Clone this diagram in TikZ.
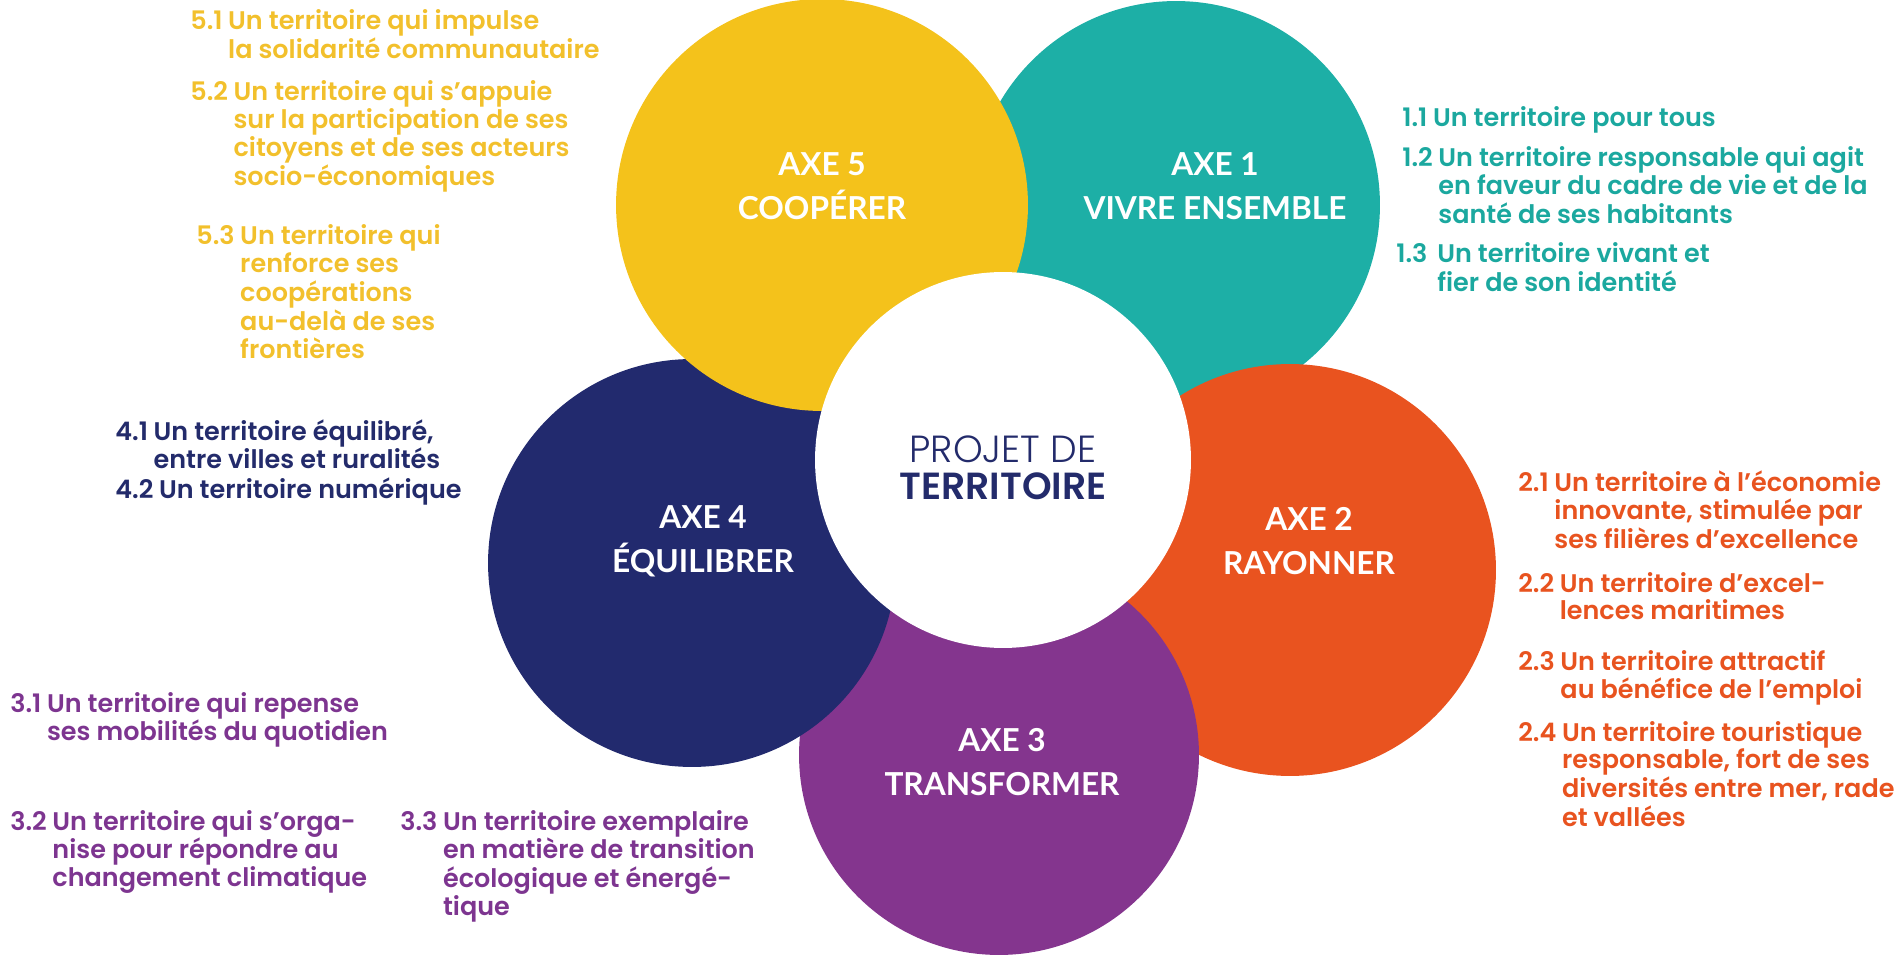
\documentclass[tikz,border=0pt]{standalone}
\usepackage{fontspec}
\setmainfont{Poppins}[BoldFont={Poppins SemiBold}]
\newfontfamily\labelfont{Lato}
\newfontfamily\lightfont{Poppins Light}
\usetikzlibrary{positioning}

\definecolor{axeteal}{HTML}{1DAFA6}
\definecolor{axeorange}{HTML}{E9531F}
\definecolor{axepurple}{HTML}{84358E}
\definecolor{axenavy}{HTML}{222A6E}
\definecolor{axeyellow}{HTML}{F4C21B}
\definecolor{txtyellow}{HTML}{F2C02C}
\definecolor{txtteal}{HTML}{1BA89F}
\definecolor{txtorange}{HTML}{E8531F}
\definecolor{txtpurple}{HTML}{7D3590}
\definecolor{txtnavy}{HTML}{232B6B}

\tikzset{
  axe/.style={circle, minimum size=#1, inner sep=0pt, outer sep=0pt},
  axelabel/.style={text=white, align=center, font=\labelfont\fontsize{18}{25}\selectfont\bfseries},
  obj/.style={anchor=base west, inner sep=0pt, font=\fontsize{14.5}{15}\selectfont\bfseries},
}
\newcommand{\obj}[2]{\begin{tabular}[t]{@{}l@{\hspace{0.22em}}l@{}}#1 & #2\end{tabular}}

\begin{document}
\begin{tikzpicture}[x=0.02cm, y=-0.02cm]
  \useasboundingbox (0,0) rectangle (1900,959);

  % Axes, back to front
  \node[axe=8.16cm, fill=axeteal] (Axe1) at (1176,205) {};
  \node[axe=8.24cm, fill=axeorange] (Axe2) at (1290,570) {};
  \node[axe=8cm, fill=axepurple] (Axe3) at (999,755) {};
  \node[axe=8.16cm, fill=axenavy] (Axe4) at (692,563) {};
  \node[axe=8.24cm, fill=axeyellow] (Axe5) at (822,205) {};

  % Centre
  \node[axe=7.52cm, fill=white] (Projet) at (1003,460) {};
  \node[align=center, text=txtnavy, font=\fontsize{21.5}{21}\selectfont] (ProjetTxt) at (1003,468)
    {{\lightfont PROJET DE}\\{\bfseries TERRITOIRE}};

  % Axe labels
  \node[axelabel] (L1) at (1215,186) {AXE 1\\VIVRE ENSEMBLE};
  \node[axelabel] (L2) at (1309,541) {AXE 2\\RAYONNER};
  \node[axelabel] (L3) at (1002,762) {AXE 3\\TRANSFORMER};
  \node[axelabel] (L4) at (703,541) {AXE 4\\ÉQUILIBRER};
  \node[axelabel] (L5) at (822,186) {AXE 5\\COOPÉRER};

  % Axe 1
  \node[obj, text=txtteal] (O11) at (1402,127) {\obj{1.1}{Un territoire pour tous}};
  \node[obj, text=txtteal] (O12) at (1402,167) {\obj{1.2}{Un territoire responsable qui agit\\ & en faveur du cadre de vie et de la\\ & santé de ses habitants}};
  \node[obj, text=txtteal] (O13) at (1396,263) {\obj{1.3\,}{Un territoire vivant et\\ & fier de son identité}};

  % Axe 2
  \node[obj, text=txtorange] (O21) at (1518,491) {\obj{2.1}{Un territoire à l’économie\\ & innovante, stimulée par\\ & ses filières d’excellence}};
  \node[obj, text=txtorange] (O22) at (1518,592) {\obj{2.2}{Un territoire d’excel-\\ & lences maritimes}};
  \node[obj, text=txtorange] (O23) at (1518,670) {\obj{2.3}{Un territoire attractif\\ & au bénéfice de l’emploi}};
  \node[obj, text=txtorange] (O24) at (1518,741) {\obj{2.4}{Un territoire touristique\\ & responsable, fort de ses\\ & diversités entre mer, rade\\ & et vallées}};

  % Axe 3
  \node[obj, text=txtpurple] (O31) at (10,712) {\obj{3.1}{Un territoire qui repense\\ & ses mobilités du quotidien}};
  \node[obj, text=txtpurple] (O32) at (10,830) {\obj{3.2}{Un territoire qui s’orga-\\ & nise pour répondre au\\ & changement climatique}};
  \node[obj, text=txtpurple] (O33) at (400,830) {\obj{3.3}{Un territoire exemplaire\\ & en matière de transition\\ & écologique et énergé-\\ & tique}};

  % Axe 4
  \node[obj, text=txtnavy] (O41) at (115,440) {\obj{4.1}{Un territoire équilibré,\\ & entre villes et ruralités}};
  \node[obj, text=txtnavy] (O42) at (115,499) {\obj{4.2}{Un territoire numérique}};

  % Axe 5
  \node[obj, text=txtyellow] (O51) at (190,30) {\obj{5.1}{Un territoire qui impulse\\ & la solidarité communautaire}};
  \node[obj, text=txtyellow] (O52) at (190,101) {\obj{5.2}{Un territoire qui s’appuie\\ & sur la participation de ses\\ & citoyens et de ses acteurs\\ & socio-économiques}};
  \node[obj, text=txtyellow] (O53) at (196,245) {\obj{5.3}{Un territoire qui\\ & renforce ses\\ & coopérations\\ & au-delà de ses\\ & frontières}};
\end{tikzpicture}
\end{document}
